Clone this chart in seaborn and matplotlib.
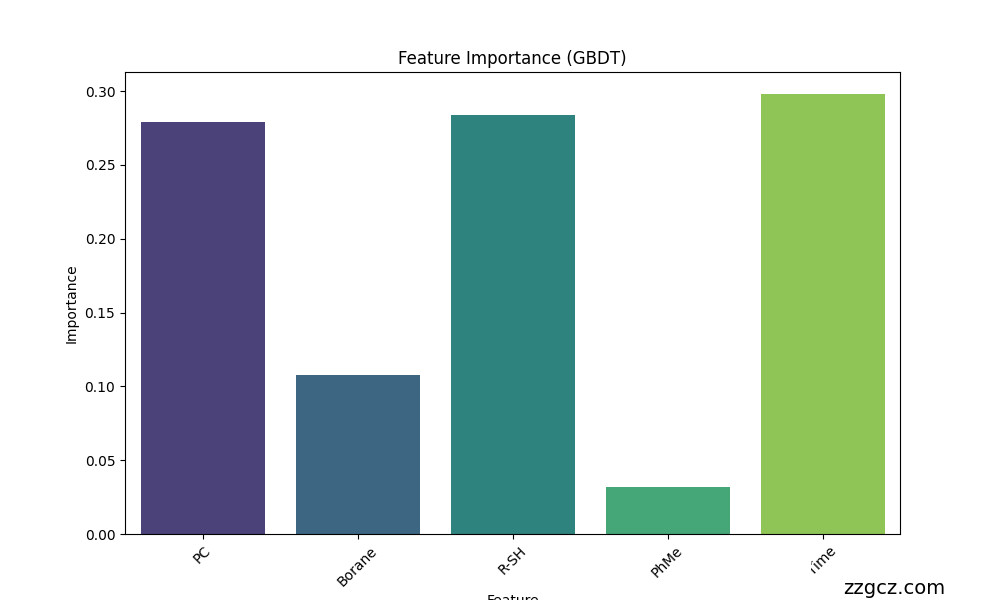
import pandas as pd
import matplotlib
matplotlib.use("Agg")
import matplotlib.pyplot as plt
import matplotlib.patches as mpatches
import seaborn as sns

features = ["PC", "Borane", "R-SH", "PhMe", "Time"]
importances = [0.279, 0.108, 0.2835, 0.032, 0.298]

df = pd.DataFrame({"Feature": features, "Importance": importances})

fig, ax = plt.subplots(figsize=(10, 6), dpi=100)
sns.barplot(data=df, x="Feature", y="Importance", hue="Feature",
            palette="viridis", legend=False, ax=ax)
ax.set_title("Feature Importance (GBDT)")
ax.set_xlabel("Feature")
ax.set_ylabel("Importance")
plt.setp(ax.get_xticklabels(), rotation=45)

# watermark (its white box hides part of the last tick label)
fig.patches.append(mpatches.Rectangle((0.76, 0.0), 0.051, 0.065, transform=fig.transFigure,
                                      facecolor="white", edgecolor="none", zorder=5))
fig.text(0.945, 0.02, "zzgcz.com", ha="right", va="center", fontsize=14,
         bbox=dict(facecolor="white", edgecolor="none", pad=4), zorder=6)

fig.savefig("out.png", dpi=100)
